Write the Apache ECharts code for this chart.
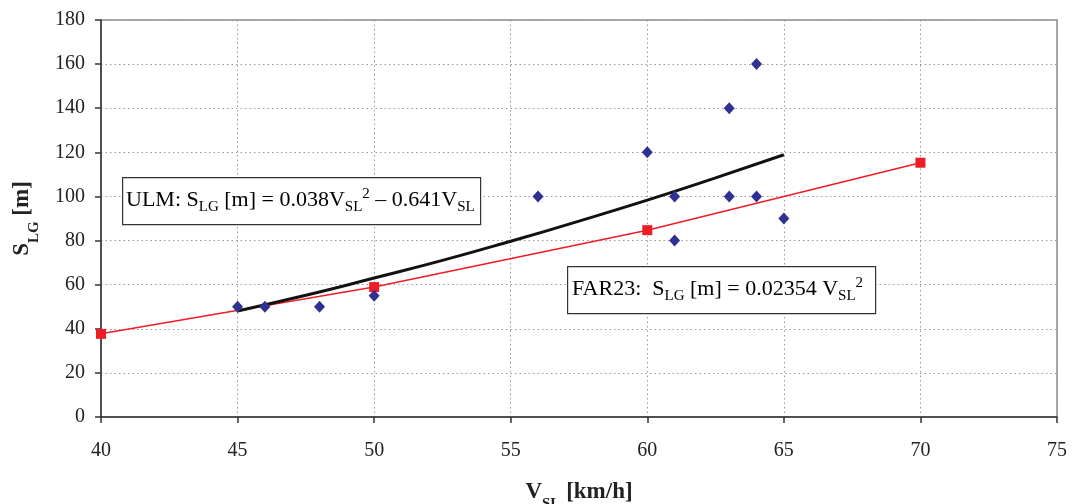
<!DOCTYPE html>
<html>
<head>
<meta charset="utf-8">
<script src="https://cdn.jsdelivr.net/npm/echarts@6/dist/echarts.min.js"></script>
<style>
html,body{margin:0;padding:0;background:#fff;}
#c{width:1072px;height:504px;}
</style>
</head>
<body>
<div id="c"></div>
<script>
// Measured data (blue diamonds)
const measuredX = [45, 46, 48, 50, 56, 60, 61, 61, 63, 63, 64, 64, 65];
const measuredY = [50, 50, 50, 55, 100, 120, 100, 80, 140, 100, 160, 100, 90];
// FAR23 points (red squares)
const farX = [40, 50, 60, 70];
const farY = [37.7, 58.9, 84.7, 115.3];
// ULM curve (black line)
const ulmX = [45, 47.5, 50, 52.5, 55, 57.5, 60, 62.5, 65];
const ulmY = [48.1, 55.2, 63.0, 71.0, 79.7, 88.8, 98.3, 108.4, 118.9];
// Axis ticks
const xTicks = [40, 45, 50, 55, 60, 65, 70, 75];
const yTicks = [0, 20, 40, 60, 80, 100, 120, 140, 160, 180];

const zip = (a, b) => a.map((v, i) => [v, b[i]]);
const serif = '"Liberation Serif", "DejaVu Serif", serif';

const chart = echarts.init(document.getElementById('c'), null, {renderer: 'canvas'});

const mainStyle = {fontFamily: serif, fontSize: 22, color: '#222', lineHeight: 30, verticalAlign: 'middle'};
const subStyle = {fontFamily: serif, fontSize: 15, color: '#222', verticalAlign: 'bottom', lineHeight: 15};
const supStyle = {fontFamily: serif, fontSize: 15, color: '#222', verticalAlign: 'top', lineHeight: 15, padding: [2, 0, 0, 0]};

chart.setOption({
  backgroundColor: '#fff',
  animation: false,
  grid: {left: 101, right: 15, top: 20, bottom: 87, outerBoundsMode: 'none', containLabel: false,
    show: true, borderColor: '#8c8c8c', borderWidth: 1.5, backgroundColor: 'transparent'},
  xAxis: {
    type: 'value', min: xTicks[0], max: xTicks[xTicks.length - 1], interval: 5,
    axisLine: {show: true, onZero: false, lineStyle: {color: '#333', width: 1.5}},
    axisTick: {show: true, length: 6, lineStyle: {color: '#333', width: 1.5}},
    axisLabel: {fontFamily: serif, fontSize: 20, color: '#222', margin: 24},
    splitLine: {show: true, lineStyle: {color: '#999', type: [1.5, 3], width: 1}},
    name: 'V{sub|SL} [km/h]', nameLocation: 'middle', nameGap: 64,
    nameTextStyle: {fontFamily: serif, fontSize: 23, fontWeight: 'bold', color: '#222',
      rich: {sub: {fontFamily: serif, fontSize: 15, fontWeight: 'bold', color: '#222', verticalAlign: 'bottom', lineHeight: 15, padding: [0,0,-8,0]}}}
  },
  yAxis: {
    type: 'value', min: yTicks[0], max: yTicks[yTicks.length - 1], interval: 20,
    axisLine: {show: true, onZero: false, lineStyle: {color: '#333', width: 1.5}},
    axisTick: {show: true, length: 6, lineStyle: {color: '#333', width: 1.5}},
    axisLabel: {fontFamily: serif, fontSize: 20, color: '#222', margin: 16},
    splitLine: {show: true, lineStyle: {color: '#999', type: [1.5, 3], width: 1}},
    name: 'S{sub|LG} [m]', nameLocation: 'middle', nameGap: 67,
    nameTextStyle: {fontFamily: serif, fontSize: 23, fontWeight: 'bold', color: '#222',
      rich: {sub: {fontFamily: serif, fontSize: 15, fontWeight: 'bold', color: '#222', verticalAlign: 'bottom', lineHeight: 15, padding: [0,0,-8,0]}}}
  },
  series: [
    {
      type: 'line', data: zip(farX, farY), symbol: 'rect', symbolSize: 10, showSymbol: true,
      clip: false, z: 3,
      lineStyle: {color: '#ee1c24', width: 1.5},
      itemStyle: {color: '#ee1c24', borderWidth: 0}
    },
    {
      type: 'line', data: zip(ulmX, ulmY), smooth: true, showSymbol: false, symbol: 'none', z: 4,
      lineStyle: {color: '#111', width: 3}
    },
    {
      type: 'scatter', data: zip(measuredX, measuredY), symbol: 'diamond', symbolSize: [11, 12], z: 5,
      itemStyle: {color: '#2e3192', opacity: 1}
    }
  ],
  graphic: [
    {
      type: 'rect', left: 122, top: 177, z: 10,
      shape: {width: 358, height: 47},
      style: {fill: '#fff', stroke: '#333', lineWidth: 1.2}
    },
    {
      type: 'text', left: 126, top: 185, z: 11,
      style: {
        text: '{m|ULM: S}{sub|LG}{m| [m] = 0.038V}{sub|SL}{sup|2}{m| – 0.641V}{sub|SL}',
        lineHeight: 30,
        rich: {m: mainStyle, sub: subStyle, sup: supStyle}
      }
    },
    {
      type: 'rect', left: 567, top: 266, z: 10,
      shape: {width: 308, height: 47},
      style: {fill: '#fff', stroke: '#333', lineWidth: 1.2}
    },
    {
      type: 'text', left: 572, top: 274, z: 11,
      style: {
        text: '{m|FAR23:  S}{sub|LG}{m| [m] = 0.02354 V}{sub|SL}{sup|2}',
        lineHeight: 30,
        rich: {m: mainStyle, sub: subStyle, sup: supStyle}
      }
    }
  ]
});
</script>
</body>
</html>
